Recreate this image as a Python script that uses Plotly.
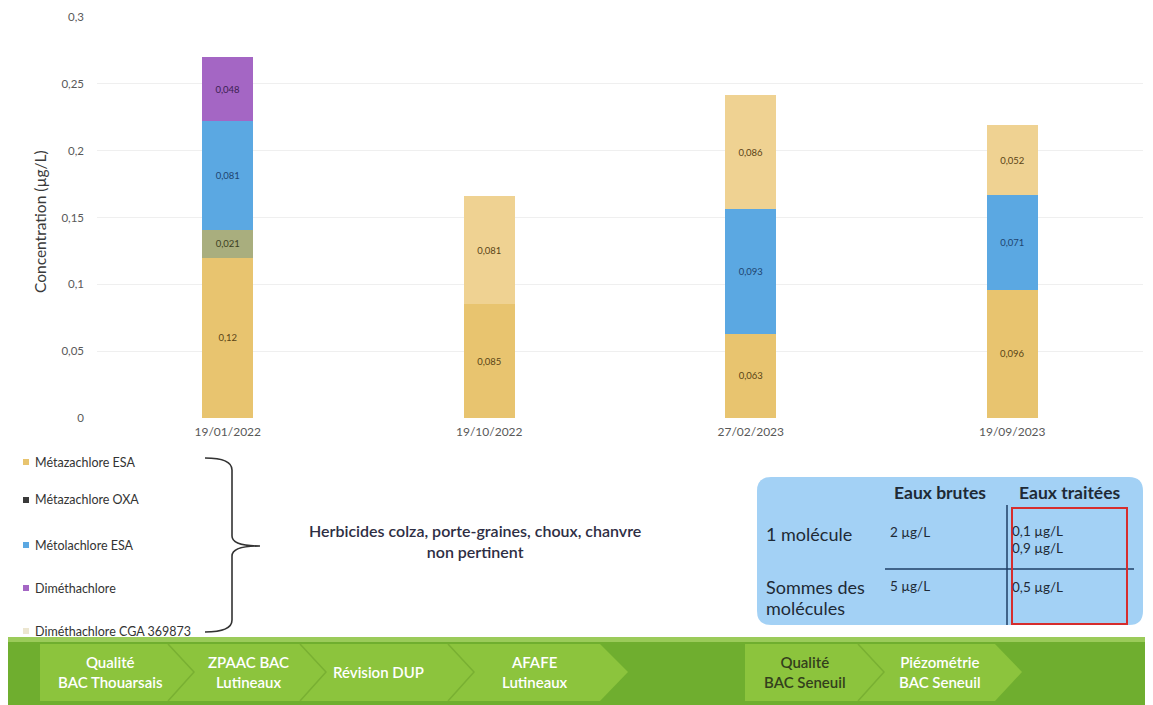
import plotly.graph_objects as go

# ---------------- data ----------------
dates = ["19/01/2022", "19/10/2022", "27/02/2023", "19/09/2023"]
series_names = ["Métazachlore ESA", "Métazachlore OXA", "Métolachlore ESA",
                "Diméthachlore", "Diméthachlore CGA 369873"]
metazachlore_esa = [0.12, 0.085, 0.063, 0.096]
metazachlore_oxa = [0.021, None, None, None]
metolachlore_esa = [0.081, None, 0.093, 0.071]
dimethachlore = [0.048, None, None, None]
dimethachlore_cga = [None, 0.081, 0.086, 0.052]
y_ticks = [0, 0.05, 0.1, 0.15, 0.2, 0.25, 0.3]
y_tick_text = ["0", "0,05", "0,1", "0,15", "0,2", "0,25", "0,3"]

series_values = [metazachlore_esa, metazachlore_oxa, metolachlore_esa,
                 dimethachlore, dimethachlore_cga]
colors = ["#E8C46F", "#A9AE7E", "#5BA8E2", "#A466C4", "#EFD292"]
legend_colors = ["#E8C46F", "#3A3A3A", "#5BA8E2", "#A466C4", "#ECE6D0"]
label_colors = ["#5A4416", "#3D3F22", "#1E4470", "#3B1F52", "#5A4416"]

# ---------------- geometry helpers ----------------
# the page body has an 8px margin, so the figure starts at (8, 8) on screen
OX, OY = 8, 8
W, H = 1145, 697
L, R, T, B = 89, 10, 9, 287
PW, PH = W - L - R, H - T - B


def px(x):
    return (x - OX - L) / PW


def py(y):
    return (H - B - (y - OY)) / PH


FONT = "Lato, 'Open Sans', sans-serif"

fig = go.Figure()
for name, vals, col, lc in zip(series_names, series_values, colors, label_colors):
    fig.add_trace(go.Bar(
        x=dates, y=vals, name=name, marker=dict(color=col, line=dict(width=0)),
        text=[None if v is None else str(v).replace(".", ",") for v in vals],
        textposition="inside", insidetextanchor="middle", textangle=0,
        constraintext="none",
        textfont=dict(size=9.5, color=lc, family=FONT),
        showlegend=False, width=0.195,
    ))

shapes = []
annotations = []

# y-axis title
annotations.append(dict(x=px(40), y=py(222), xref="paper", yref="paper",
                        text="Concentration (µg/L)", textangle=-90, showarrow=False,
                        font=dict(size=15.5, color="#3A3A3A", family=FONT),
                        xanchor="center", yanchor="middle"))

# custom legend
leg_y = [462, 500, 545, 588, 631]
for name, col, yy in zip(series_names, legend_colors, leg_y):
    shapes.append(dict(type="rect", xref="paper", yref="paper",
                       x0=px(23), x1=px(29), y0=py(yy - 3), y1=py(yy + 3),
                       fillcolor=col, line=dict(width=0)))
    annotations.append(dict(x=px(33), y=py(yy), xref="paper", yref="paper", text=name,
                            showarrow=False, xanchor="left", yanchor="middle",
                            font=dict(size=12.5, color="#333333", family=FONT)))

# bracket
bracket = ("M {a},{b} Q {c},{b} {c},{d} L {c},{e} Q {c},{m} {f},{m} "
           "Q {c},{m} {c},{g} L {c},{h} Q {c},{i} {a},{i}").format(
    a=px(205), c=px(232), f=px(260),
    b=py(458), d=py(470), e=py(536), m=py(546), g=py(556), h=py(620), i=py(632))
shapes.append(dict(type="path", xref="paper", yref="paper", path=bracket,
                   line=dict(color="#333333", width=1.6)))
annotations.append(dict(x=px(475), y=py(541), xref="paper", yref="paper",
                        text="Herbicides colza, porte-graines, choux, chanvre<br>non pertinent",
                        showarrow=False, xanchor="center", yanchor="middle",
                        font=dict(size=16, color="#2E2E44", family=FONT, weight=600)))

# regulatory table box
x0b, x1b, y0b, y1b, r = 757, 1143, 477, 625, 14
box = ("M {xa},{yt} L {xb},{yt} Q {xr},{yt} {xr},{yc} L {xr},{yd} Q {xr},{yb} {xb},{yb} "
       "L {xa},{yb} Q {xl},{yb} {xl},{yd} L {xl},{yc} Q {xl},{yt} {xa},{yt} Z").format(
    xl=px(x0b), xr=px(x1b), xa=px(x0b + r), xb=px(x1b - r),
    yt=py(y0b), yb=py(y1b), yc=py(y0b + r), yd=py(y1b - r))
shapes.append(dict(type="path", xref="paper", yref="paper", path=box,
                   fillcolor="#A3D1F5", line=dict(width=0), layer="below"))
shapes.append(dict(type="line", xref="paper", yref="paper", x0=px(885), x1=px(1134),
                   y0=py(569), y1=py(569), line=dict(color="#1F3F66", width=1.5)))
shapes.append(dict(type="line", xref="paper", yref="paper", x0=px(1007), x1=px(1007),
                   y0=py(505), y1=py(625), line=dict(color="#1F3F66", width=1.5)))
shapes.append(dict(type="rect", xref="paper", yref="paper", x0=px(1012), x1=px(1127),
                   y0=py(508), y1=py(624), line=dict(color="#D62D2D", width=2)))

tbl = [
    ("Eaux brutes", 940, 492, "center", True, 17.5),
    ("Eaux traitées", 1070, 492, "center", True, 17.5),
    ("1 molécule", 764, 534, "left", False, 18),
    ("2 µg/L", 888, 532, "left", False, 13.5),
    ("0,1 µg/L", 1010, 531, "left", False, 13.5),
    ("0,9 µg/L", 1010, 548, "left", False, 13.5),
    ("Sommes des", 764, 587, "left", False, 18),
    ("molécules", 764, 608, "left", False, 18),
    ("5 µg/L", 888, 586, "left", False, 13.5),
    ("0,5 µg/L", 1010, 587, "left", False, 13.5),
]
for txt, xx, yy, anc, bold, fs in tbl:
    annotations.append(dict(x=px(xx), y=py(yy), xref="paper", yref="paper",
                            text=("<b>%s</b>" % txt) if bold else txt,
                            showarrow=False, xanchor=anc, yanchor="middle",
                            font=dict(size=fs, color="#1E2A36", family=FONT)))

# bottom green banner
shapes.append(dict(type="rect", xref="paper", yref="paper", x0=px(5), x1=px(1153),
                   y0=py(637), y1=py(705), fillcolor="#6FAE2F", line=dict(width=0)))
shapes.append(dict(type="rect", xref="paper", yref="paper", x0=px(5), x1=px(1153),
                   y0=py(637), y1=py(642), fillcolor="#9BCB5A", line=dict(width=0)))


def chevron_area(xs, xe, tip):
    return "M {a},{t} L {b},{t} L {c},{m} L {b},{bt} L {a},{bt} Z".format(
        a=px(xs), b=px(xe), c=px(tip), t=py(644), bt=py(701), m=py(672))


shapes.append(dict(type="path", xref="paper", yref="paper",
                   path=chevron_area(40, 600, 628), fillcolor="#8CC43D", line=dict(width=0)))
shapes.append(dict(type="path", xref="paper", yref="paper",
                   path=chevron_area(745, 995, 1022), fillcolor="#8CC43D", line=dict(width=0)))
for xs in [168, 300, 448, 858]:
    shapes.append(dict(type="path", xref="paper", yref="paper",
                       path="M {a},{t} L {b},{m} L {a},{bt}".format(
                           a=px(xs), b=px(xs + 26), t=py(644), m=py(672), bt=py(701)),
                       line=dict(color="#79B032", width=1.5)))

banner = [
    ("Qualité<br>BAC Thouarsais", 110, "#FFFFFF"),
    ("ZPAAC BAC<br>Lutineaux", 248, "#FFFFFF"),
    ("Révision DUP", 378, "#FFFFFF"),
    ("AFAFE<br>Lutineaux", 535, "#FFFFFF"),
    ("Qualité<br>BAC Seneuil", 805, "#33401C"),
    ("Piézométrie<br>BAC Seneuil", 940, "#FFFFFF"),
]
for txt, xx, col in banner:
    annotations.append(dict(x=px(xx), y=py(672), xref="paper", yref="paper", text=txt,
                            showarrow=False, xanchor="center", yanchor="middle",
                            font=dict(size=15, color=col, family=FONT, weight=600)))

fig.update_layout(
    width=W, height=H, margin=dict(l=L, r=R, t=T, b=B, autoexpand=False),
    barmode="stack", plot_bgcolor="white", paper_bgcolor="white",
    font=dict(family=FONT, color="#595959"),
    xaxis=dict(type="category", range=[-0.5, 3.5], showgrid=False, showline=False,
               ticks="", tickfont=dict(size=12, color="#595959"), ticklabelstandoff=5),
    yaxis=dict(range=[0, 0.3], tickvals=y_ticks, ticktext=y_tick_text,
               showgrid=True, gridcolor="#EFEFEF", gridwidth=1, zeroline=False,
               showline=False, ticks="", tickfont=dict(size=11.5, color="#595959"),
               ticklabelstandoff=12, ticklabeloverflow="allow"),
    shapes=shapes, annotations=annotations, showlegend=False,
)

fig.write_html("out.html")
